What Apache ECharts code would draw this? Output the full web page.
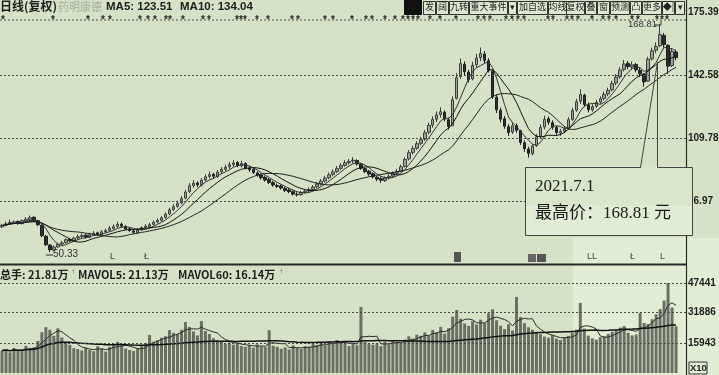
<!DOCTYPE html>
<html><head><meta charset="utf-8">
<script src="https://cdn.jsdelivr.net/npm/echarts@6.0.0/dist/echarts.min.js"></script>
<style>html,body{margin:0;padding:0;background:#d5e2c7;}#c{width:719px;height:375px;}</style>
</head><body><div id="c"></div>
<script>
// [open, close, low, high]
const candles = [
[63.5,64.2,62.9,65.1],[64.3,65.0,63.8,66.2],[65.2,65.8,64.5,67.4],[65.6,66.1,64.9,66.9],[66.3,65.4,64.6,66.8],
[65.2,66.8,64.8,67.3],[66.6,67.5,66.0,68.6],[67.2,68.3,66.7,69.4],[68.5,66.9,66.2,69.0],[66.7,64.6,63.9,67.1],
[64.3,58.9,58.1,64.8],[58.6,54.2,53.5,59.3],[54.0,51.6,50.33,54.6],[51.4,53.0,50.9,53.8],[53.1,54.4,52.5,55.3],
[54.6,55.1,53.9,56.2],[55.3,56.8,54.8,57.5],[56.9,56.2,55.6,57.8],[56.0,57.6,55.7,58.4],[57.8,58.3,57.0,59.5],
[58.5,58.9,57.6,60.1],[59.2,58.1,57.4,59.8],[58.0,59.4,57.7,60.4],[59.6,60.2,58.8,61.3],[60.4,59.6,58.9,61.0],
[59.5,60.9,59.1,61.8],[61.0,61.5,60.2,62.6],[61.7,62.8,61.0,63.9],[62.6,63.6,62.1,64.8],[63.8,64.7,63.0,66.2],
[64.9,63.9,63.1,65.7],[63.7,62.4,61.8,64.3],[62.5,61.6,60.9,63.2],[61.4,60.7,59.8,62.1],[60.6,61.9,60.0,62.7],
[62.1,63.0,61.4,63.8],[63.2,63.8,62.5,64.9],[63.6,64.6,63.0,65.6],[64.8,65.9,64.2,66.8],[66.0,66.8,65.3,67.9],
[66.9,68.2,66.3,69.1],[68.4,70.1,67.8,71.0],[70.3,72.4,69.6,73.5],[72.6,74.0,71.8,75.3],[74.2,75.8,73.5,77.1],
[76.0,78.2,75.2,79.6],[78.5,81.6,77.9,82.8],[81.9,84.9,81.0,86.3],[85.1,86.2,83.8,87.9],[86.4,85.4,84.1,87.2],
[85.2,87.8,84.6,88.9],[88.0,89.6,87.1,90.8],[89.8,90.7,88.6,92.3],[90.9,89.9,88.5,91.6],[89.7,92.0,89.0,93.1],
[92.2,93.4,91.2,94.6],[93.5,94.6,92.6,95.9],[94.8,95.9,93.7,97.4],[96.0,96.8,94.9,98.3],[97.0,95.5,94.6,97.8],
[95.3,96.4,94.5,97.9],[96.5,94.1,93.4,97.1],[94.0,93.2,92.1,95.2],[93.4,91.8,91.0,94.0],[91.6,90.4,89.6,92.5],
[90.5,89.1,88.2,91.3],[89.3,87.9,87.1,90.2],[88.1,86.6,85.8,88.9],[86.5,85.3,84.4,87.4],[85.0,84.6,83.7,86.1],
[84.8,83.7,82.9,85.6],[83.5,82.5,81.6,84.3],[82.7,81.9,81.0,83.6],[81.8,80.6,79.8,82.5],[80.4,80.2,79.3,81.5],
[80.3,81.4,79.7,82.3],[81.5,82.0,80.8,83.1],[82.2,82.9,81.4,84.0],[83.0,84.2,82.3,85.2],[84.4,85.7,83.6,86.9],
[85.9,87.3,85.0,88.4],[87.4,88.9,86.5,90.1],[89.1,90.6,88.3,91.8],[90.8,92.1,89.9,93.4],[92.3,93.8,91.5,95.2],
[94.0,95.4,93.1,96.6],[95.5,96.9,94.8,98.2],[97.0,97.6,95.9,98.9],[97.8,98.2,96.6,99.8],[98.0,96.3,95.4,98.7],
[96.1,94.0,93.2,96.6],[93.8,92.3,91.5,94.4],[92.5,91.0,90.1,93.1],[91.2,89.6,88.7,91.8],[89.4,88.4,87.3,90.2],
[88.6,87.8,86.4,89.5],[87.6,88.9,86.9,89.8],[89.1,89.8,88.2,90.9],[89.9,91.2,89.0,92.4],[91.4,92.4,90.6,93.7],
[92.6,94.8,92.0,95.9],[95.0,98.6,94.4,99.7],[98.9,102.1,98.0,103.5],[102.3,104.3,101.2,105.8],[104.5,106.8,103.6,108.1],
[107.0,108.9,105.9,110.4],[109.2,112.5,108.3,113.9],[112.8,116.3,111.7,117.8],[116.5,119.4,115.2,121.0],[119.6,121.8,118.1,123.6],
[122.0,123.5,120.4,125.8],[123.2,119.6,118.5,124.1],[119.3,115.8,114.2,120.4],[116.2,129.7,115.9,131.5],[130.4,141.2,129.8,143.6],
[141.8,148.5,140.6,151.2],[148.1,144.3,142.5,149.6],[144.0,140.2,138.7,145.3],[140.6,147.6,139.8,149.5],[147.9,151.4,146.3,153.6],
[151.7,153.8,149.8,156.9],[153.5,150.2,148.6,155.1],[150.0,145.1,143.9,151.3],[144.6,131.2,130.1,145.2],[131.0,124.5,122.8,132.4],
[124.2,119.6,117.9,125.6],[119.8,115.9,114.6,121.2],[115.6,112.7,110.8,117.0],[112.9,116.1,111.9,117.8],[116.3,113.8,112.5,117.4],
[113.5,107.5,106.2,114.1],[107.3,104.2,102.6,108.5],[104.0,101.8,99.6,105.3],[101.6,105.6,100.8,106.7],[105.9,110.4,105.1,111.8],
[110.6,115.2,109.7,116.9],[115.5,119.5,114.3,121.4],[119.8,118.0,116.6,121.0],[117.7,115.4,114.1,119.0],[115.2,112.6,111.2,116.0],
[112.4,113.2,110.9,114.5],[113.4,114.5,112.3,115.9],[114.8,119.3,114.0,120.6],[119.5,124.1,118.6,125.5],[124.3,128.6,123.4,130.2],
[128.9,132.4,127.5,135.2],[132.1,127.2,126.0,132.8],[127.0,124.6,123.1,128.3],[124.4,126.1,123.5,127.4],[126.3,128.3,125.4,129.6],
[128.5,130.2,127.6,131.5],[130.4,132.5,129.4,133.9],[132.7,134.6,131.5,136.0],[134.9,138.1,134.0,139.6],[138.4,141.5,137.2,143.0],
[141.7,145.2,140.6,146.8],[145.5,148.3,144.4,150.4],[148.6,147.0,145.6,149.9],[146.8,147.9,145.5,149.6],[148.1,145.3,144.0,148.8],
[145.0,143.2,141.6,146.3],[142.9,139.0,136.5,143.6],[139.4,150.8,139.0,152.1],[151.0,155.2,150.1,156.8],[155.5,157.5,153.9,159.6],
[157.9,163.6,157.0,168.81],[163.2,158.4,156.9,164.5],[158.0,147.2,143.1,158.6],[147.5,154.9,146.8,156.3],[154.6,151.6,150.2,155.8]
];
const volumes = [
11800,12500,10900,13200,11600,12100,14300,12800,13500,16900,
21500,24200,22800,19600,23500,18700,16200,14800,13100,12600,
11900,13400,12200,11500,14100,12700,11300,13800,15200,16400,
14600,12900,12100,11600,13000,14200,15800,20100,16500,17300,
18600,19400,22600,21200,20500,22800,26900,24300,21900,19800,
27400,22100,20600,18400,17200,16800,15400,16100,14900,15600,
14200,13800,14700,13300,15100,14000,13600,22600,14400,13900,
12800,13500,12400,14600,13200,12700,14100,13600,15300,14800,
15900,14500,16700,15200,17400,16000,15500,14200,15800,14600,
34800,16300,15400,14900,15700,14200,16600,15100,17200,16400,
15800,17600,19300,18100,20200,19600,21400,19800,22700,21500,
24300,20800,23600,29700,33200,28600,26100,24800,27300,25600,
28100,26400,31500,33600,27800,24900,23200,25700,22400,40100,
29600,26300,24100,22800,21700,20500,19200,18600,19900,18100,
17400,18800,19600,21300,22900,36900,23400,19700,18300,17600,
18900,19400,20600,21800,22500,23900,24700,21200,19800,20300,
31600,26400,25800,28300,30900,33700,38200,47441,34500,24600
];
const priceTicks = [175.39, 142.58, 109.78, 76.97];
const volTicks = [47441, 31886, 15943];
const categories = [];
for (let i = 0; i < candles.length + 2; i++) categories.push('D' + (i + 1));

const closes = candles.map(c => c[1]);
function ma(arr, n) {
  return arr.map((_, i) => {
    const s = Math.max(0, i - n + 1);
    let t = 0;
    for (let k = s; k <= i; k++) t += arr[k];
    return +(t / (i - s + 1)).toFixed(2);
  });
}

const chart = echarts.init(document.getElementById('c'), null, {renderer: 'canvas'});
const FONT = '"Liberation Sans","Noto Sans CJK SC",sans-serif';
const dark = '#1c1c1c';
const dotted = {type: [2, 2], color: '#4a4a4a', width: 1};

function tickLines(ticks, hideFirst) {
  return ticks.map((v, i) => ({
    yAxis: v,
    lineStyle: (hideFirst && i === 0) ? {color: 'rgba(0,0,0,0)', width: 1} : dotted,
    label: {show: true, position: 'end', distance: 2, formatter: v % 1 ? v.toFixed(2) : String(v),
      color: dark, fontSize: 10, fontWeight: 'bold', fontFamily: '"Liberation Sans",sans-serif'}
  }));
}

const toolbar = [
  {t:'发',x:423,w:12},{t:'阔',x:436,w:12},{t:'九转',x:449,w:19},{t:'重大事件',x:469,w:38},{t:'▾',x:508,w:8},
  {t:'加自选',x:517,w:30},{t:'均线',x:548,w:18},{t:'复权',x:566,w:18},{t:'叠',x:585,w:11},{t:'窗',x:597,w:12},
  {t:'预测',x:610,w:19},{t:'凸',x:630,w:11},{t:'更多',x:642,w:19},{t:'◆|',x:662,w:12},{t:'▾',x:675,w:9}
];
const stars = [3,53,88,103,110,140,148,155,166,170,183,203,209,237,241,245,257,268,292,298,325,333,352,366,372,385,395,403,408,413,418,430,440,456,478,484,490,506,512,518,524,548,553,567,572,578,592,603,609,616,632,638,657,662,667];

const graphics = [
  {type:'rect', z:-1, shape:{x:573,y:238,width:146,height:137}, style:{fill:'#e2edd5'}},
  {type:'line', z:1, shape:{x1:0,y1:20,x2:686,y2:20}, style:{stroke:'#555',lineWidth:1,lineDash:[2,2]}},
  {type:'line', z:5, shape:{x1:0,y1:264.5,x2:686,y2:264.5}, style:{stroke:'#2a2a2a',lineWidth:2}},
  {type:'line', z:5, shape:{x1:686.5,y1:0,x2:686.5,y2:375}, style:{stroke:'#2a2a2a',lineWidth:1.2}},
  {type:'text', z:6, x:0, y:0, style:{text:'日线(复权)', fill:dark, font:'bold 12px "Noto Sans CJK SC"'}},
  {type:'text', z:6, x:58, y:1, style:{text:'药明康德', fill:'#a4ad9a', font:'11px "Noto Sans CJK SC"'}},
  {type:'text', z:6, x:106, y:1, style:{text:'MA5: 123.51', fill:dark, font:'bold 11.5px ' + FONT}},
  {type:'text', z:6, x:180, y:1, style:{text:'MA10: 134.04', fill:dark, font:'bold 11.5px ' + FONT}},
  {type:'rect', z:6, shape:{x:404,y:0,width:18,height:15}, style:{fill:'#111'}},
  {type:'text', z:6, x:0, y:269, style:{text:'总手: 21.81万', fill:dark, font:'bold 11px "Noto Sans CJK SC"'}},
  {type:'text', z:6, x:71, y:268, style:{text:'↑', fill:'#666', font:'8px ' + FONT}},
  {type:'text', z:6, x:78, y:269, style:{text:'MAVOL5: 21.13万', fill:dark, font:'bold 11px "Noto Sans CJK SC"'}},
  {type:'text', z:6, x:178, y:269, style:{text:'MAVOL60: 16.14万', fill:dark, font:'bold 11px "Noto Sans CJK SC"'}},
  {type:'text', z:6, x:279, y:268, style:{text:'↑', fill:'#666', font:'8px ' + FONT}},
  {type:'rect', z:6, shape:{x:689,y:362,width:18,height:12}, style:{fill:'none',stroke:'#333',lineWidth:1}},
  {type:'text', z:6, x:690, y:363, style:{text:'X10', fill:dark, font:'bold 9.5px "Liberation Sans"'}},
  {type:'text', z:6, x:53, y:249, style:{text:'50.33', fill:'#333', font:'10px ' + FONT}},
  {type:'line', z:6, shape:{x1:46,y1:255,x2:53,y2:255}, style:{stroke:'#333',lineWidth:1}},
  {type:'text', z:6, x:628, y:20, style:{text:'168.81', fill:'#333', font:'9.5px ' + FONT}},
  {type:'polyline', z:6, shape:{points:[[654,25],[661,25],[661,21]]}, style:{stroke:'#333',lineWidth:1,fill:'none'}},
  {type:'text', z:6, x:110, y:252, style:{text:'L', fill:'#444', font:'9px ' + FONT}},
  {type:'text', z:6, x:144, y:252, style:{text:'Ł', fill:'#444', font:'9px ' + FONT}},
  {type:'rect', z:6, shape:{x:454,y:252,width:7,height:10}, style:{fill:'#555'}},
  {type:'rect', z:6, shape:{x:528,y:254,width:8,height:8}, style:{fill:'#666'}},
  {type:'rect', z:6, shape:{x:537,y:254,width:9,height:8}, style:{fill:'#555'}},
  {type:'text', z:6, x:587, y:252, style:{text:'LL', fill:'#444', font:'9px ' + FONT}},
  {type:'text', z:6, x:630, y:252, style:{text:'Ł', fill:'#444', font:'9px ' + FONT}},
  {type:'text', z:6, x:660, y:252, style:{text:'L', fill:'#444', font:'9px ' + FONT}},
  // annotation box
  {type:'rect', z:10, shape:{x:525.5,y:167.5,width:167,height:68}, style:{fill:'#d9e6cc',stroke:'#444',lineWidth:1}},
  {type:'rect', z:10, shape:{x:526,y:206,width:166,height:29}, style:{fill:'#e1ecd6'}},
  {type:'line', z:11, shape:{x1:641,y1:167.5,x2:657.5,y2:167.5}, style:{stroke:'#d9e6cc',lineWidth:2}},
  {type:'polyline', z:11, shape:{points:[[640.5,167.5],[657.5,62],[657.5,167.5]]}, style:{stroke:'#444',lineWidth:1,fill:'none'}},
  {type:'text', z:12, x:535, y:178, style:{text:'2021.7.1', fill:'#1a1a1a', font:'17px "Liberation Serif","DejaVu Serif",serif'}},
  {type:'text', z:12, x:535, y:205, style:{text:'最高价：168.81 元', fill:'#1a1a1a', font:'17px "Liberation Serif","Noto Sans CJK SC",serif'}}
];
toolbar.forEach(b => {
  graphics.push({type:'rect', z:6, shape:{x:b.x+0.5,y:1.5,width:b.w,height:13}, style:{fill:'#dde8d1',stroke:'#333',lineWidth:1}});
  graphics.push({type:'text', z:7, x:b.x + b.w/2 + 0.5, y:2.5, style:{text:b.t, fill:'#222', font:'9px "Noto Sans CJK SC"', textAlign:'center'}});
});
stars.forEach(x => {
  graphics.push({type:'text', z:6, x:x, y:15, style:{text:'*', fill:'#222', font:'bold 10px ' + FONT, textAlign:'center'}});
});

const pMin = priceTicks[3] - (priceTicks[2] - priceTicks[3]);
const pMax = priceTicks[0];

chart.setOption({
  backgroundColor: '#d5e2c7',
  animation: false,
  grid: [
    {left: -2, top: 12, width: 688, height: 252},
    {left: -2, top: 283, width: 688, height: 90}
  ],
  xAxis: [
    {type:'category', gridIndex:0, data:categories, boundaryGap:true, show:false},
    {type:'category', gridIndex:1, data:categories, boundaryGap:true, show:false}
  ],
  yAxis: [
    {type:'value', gridIndex:0, min:pMin, max:pMax, show:false, scale:true},
    {type:'value', gridIndex:1, min:0, max:volTicks[0], show:false}
  ],
  series: [
    {type:'candlestick', xAxisIndex:0, yAxisIndex:0, data:candles, barWidth:3,
     itemStyle:{color:'#9ea397', color0:'#2e2e2e', borderColor:'#3c3c3c', borderColor0:'#1e1e1e', borderWidth:1},
     markLine:{silent:true, symbol:'none', animation:false, data: tickLines(priceTicks, true)}},
    {type:'line', xAxisIndex:0, yAxisIndex:0, data:ma(closes,5), symbol:'none', lineStyle:{color:'#333',width:1}},
    {type:'line', xAxisIndex:0, yAxisIndex:0, data:ma(closes,10), symbol:'none', lineStyle:{color:'#111',width:1}},
    {type:'line', xAxisIndex:0, yAxisIndex:0, data:ma(closes,20), symbol:'none', lineStyle:{color:'#222',width:1}},
    {type:'bar', xAxisIndex:1, yAxisIndex:1, data:volumes, barWidth:3, itemStyle:{color:'#6a6f64'},
     markLine:{silent:true, symbol:'none', animation:false, data: tickLines(volTicks, false)}},
    {type:'line', xAxisIndex:1, yAxisIndex:1, data:ma(volumes,5), symbol:'none', lineStyle:{color:'#2a2a2a',width:1}},
    {type:'line', xAxisIndex:1, yAxisIndex:1, data:ma(volumes,60), symbol:'none', lineStyle:{color:'#111',width:1.5}}
  ],
  graphic: graphics
});
</script></body></html>
